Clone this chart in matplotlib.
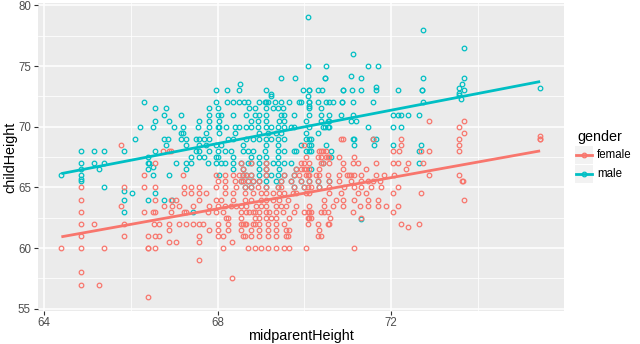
import numpy as np
import matplotlib
matplotlib.use('Agg')
import matplotlib.pyplot as plt
from matplotlib.patches import Rectangle
from matplotlib.lines import Line2D
from matplotlib.ticker import MultipleLocator

plt.rcParams['font.family'] = ['Liberation Sans', 'DejaVu Sans']

# colours used by ggplot's default hue scale
FEMALE = '#F8766D'
MALE = '#00BFC4'

# (childHeight, [midparentHeight, ...]), one row per child height
female_rows = [
    (70.5, [72.88, 73.68]),
    (70.0, [73.57]),
    (69.5, [73.68]),
    (69.2, [75.43]),
    (69.0, [70.84, 70.88, 71.57, 72.23, 73.57, 75.43, 75.43]),
    (68.5, [65.77, 70.0, 72.23, 73.57]),
    (68.0, [66.75, 66.89, 66.93, 70.34, 70.38, 70.42, 70.5, 72.03, 72.19, 72.69, 72.88, 73.57]),
    (67.5, [70.04, 70.31, 70.38, 70.5, 70.54, 70.57, 70.8, 71.15]),
    (67.0, [66.56, 68.54, 68.77, 69.11, 69.92, 70.0, 70.11, 70.38, 70.42, 70.57, 70.88, 71.11,
            71.23, 71.65, 72.03, 72.15, 72.38, 72.72]),
    (66.5, [68.58, 69.11, 69.81, 69.92, 70.0, 70.04, 70.11, 70.34, 70.88, 71.42, 72.34]),
    (66.0, [66.31, 67.2, 67.96, 68.16, 68.35, 68.5, 68.58, 68.65, 68.77, 69.11, 69.54, 69.77,
            69.88, 70.04, 70.08, 70.11, 70.27, 70.34, 70.54, 70.8, 70.99, 71.03, 71.07, 71.15,
            71.3, 71.65, 71.84, 72.07, 72.88, 73.57]),
    (65.5, [68.0, 68.16, 68.39, 68.54, 68.58, 68.69, 68.81, 68.96, 69.46, 69.69, 69.92, 70.11,
            70.31, 70.57, 70.8, 71.07, 71.3, 71.46, 71.57, 71.73, 73.66, 73.62]),
    (65.0, [64.85, 65.85, 66.31, 66.56, 67.23, 67.39, 67.58, 67.96, 68.16, 68.42, 68.62, 68.77,
            68.92, 69.11, 69.38, 69.46, 69.77, 70.0, 70.08, 70.15, 70.34, 70.57, 70.92, 71.15,
            71.3, 71.53, 71.76, 72.15]),
    (64.5, [67.23, 67.39, 67.58, 67.73, 68.16, 68.35, 68.62, 68.81, 69.0, 69.11, 69.27, 69.42,
            69.54, 69.73, 69.81, 70.04, 70.11, 70.57, 70.84, 71.23, 71.42, 72.03, 72.69]),
    (64.0, [64.85, 66.56, 66.93, 67.04, 67.58, 67.96, 68.08, 68.35, 68.62, 68.77, 69.0, 69.11,
            69.27, 69.42, 69.61, 70.46, 70.73, 70.88, 71.15, 71.46, 71.69, 73.68]),
    (63.5, [65.77, 66.77, 66.96, 67.12, 67.43, 67.81, 68.0, 68.16, 68.31, 68.42, 68.54, 68.65,
            68.88, 69.0, 69.11, 69.35, 69.46, 69.58, 69.81, 70.11, 70.46, 70.65, 70.88, 71.27,
            71.46, 71.69, 71.88, 72.15]),
    (63.0, [64.85, 66.31, 66.5, 66.56, 66.93, 67.23, 67.27, 67.77, 67.96, 68.12, 68.54, 68.65,
            68.73, 68.81, 68.85, 68.96, 69.11, 69.19, 69.35, 69.5, 69.77, 70.0, 70.08, 70.11,
            70.15, 70.38, 70.46, 70.54, 71.11, 72.03]),
    (62.5, [68.19, 68.23, 68.54, 68.85, 68.96, 69.11, 69.23, 69.35, 69.65, 70.08, 70.11, 70.15,
            70.6, 71.3]),
    (62.0, [64.85, 65.15, 65.85, 66.54, 66.65, 66.89, 67.12, 67.27, 67.43, 67.58, 67.67, 68.0,
            68.23, 68.54, 68.58, 68.62, 68.65, 68.81, 68.85, 68.96, 69.15, 69.35, 69.54, 70.08,
            70.31, 70.54, 70.57, 72.23, 72.65]),
    (61.7, [72.38]),
    (61.5, [66.89, 67.81, 68.0, 68.23, 68.54, 68.77, 68.96, 69.15, 69.35, 69.58, 69.65, 70.33]),
    (61.0, [64.85, 65.85, 66.39, 66.56, 66.65, 67.58, 68.0, 68.12, 68.58, 68.62, 68.77, 68.96,
            69.15, 69.35, 69.58, 69.61, 70.31, 70.38]),
    (60.5, [66.87, 67.04, 67.58, 68.33]),
    (60.0, [64.4, 64.85, 65.39, 66.39, 66.39, 66.56, 68.12, 68.69, 68.85, 69.0, 69.15, 69.35,
            69.54, 69.65, 70.04, 71.15]),
    (59.0, [67.58]),
    (58.0, [64.85]),
    (57.5, [68.33]),
    (57.0, [64.85, 65.26]),
    (56.0, [66.39]),
]

male_rows = [
    (79.0, [70.08]),
    (78.0, [72.72]),
    (76.5, [73.68]),
    (76.0, [71.11]),
    (75.0, [70.08, 70.5, 71.46, 71.69]),
    (74.2, [71.07]),
    (74.0, [69.46, 69.78, 70.48, 70.48, 71.3, 72.72, 73.68]),
    (73.5, [68.52, 73.62]),
    (73.3, [71.65]),
    (73.2, [73.57, 75.43]),
    (73.0, [67.96, 68.22, 68.5, 69.12, 69.97, 70.1, 70.1, 70.31, 70.4, 70.88, 70.88, 71.1,
            71.3, 71.65, 72.15, 72.7, 72.7, 73.68]),
    (72.8, [73.57]),
    (72.7, [69.23]),
    (72.6, [73.57]),
    (72.5, [69.23, 70.08]),
    (72.3, [73.6]),
    (72.0, [66.3, 67.96, 68.22, 68.36, 68.5, 68.61, 68.71, 68.96, 69.08, 69.12, 69.15, 69.33,
            69.46, 69.65, 69.88, 69.91, 70.1, 70.1, 70.32, 70.5, 70.56, 70.65, 70.87, 70.87,
            71.11, 71.57, 72.72]),
    (71.7, [70.1]),
    (71.5, [66.56, 66.81, 67.81, 68.0, 68.73, 68.85, 69.11, 69.27, 69.38, 69.5, 70.11, 70.38]),
    (71.0, [66.77, 67.16, 67.81, 68.0, 68.08, 68.35, 68.65, 68.85, 68.96, 69.11, 69.46, 69.54,
            69.77, 70.11, 70.38, 70.57, 70.84, 71.11, 72.03, 72.15, 72.23, 72.38, 72.65]),
    (70.5, [66.56, 66.89, 67.58, 67.81, 68.04, 68.77, 68.92, 69.11, 69.42, 69.54, 70.04, 70.38,
            70.54, 70.57, 71.07, 71.19]),
    (70.0, [66.2, 66.5, 67.0, 67.2, 67.54, 67.81, 68.0, 68.04, 68.19, 68.39, 68.5, 68.65,
            68.77, 68.92, 69.11, 69.23, 69.38, 69.54, 69.69, 69.77, 70.11, 70.42, 70.48, 70.54,
            70.57, 71.46, 72.03, 72.23]),
    (69.5, [67.16, 67.2, 67.73, 68.04, 68.39, 68.96, 69.15, 69.35, 69.46, 70.04, 70.31]),
    (69.0, [66.1, 66.77, 66.85, 67.16, 67.27, 67.5, 67.58, 67.69, 67.81, 68.23, 68.35, 68.65,
            68.81, 68.96, 69.11, 69.23, 69.38, 69.54, 70.04, 70.1, 70.15, 71.11, 71.15, 71.57,
            71.65]),
    (68.5, [66.81, 67.27, 67.58, 67.73, 67.96, 68.08, 68.58, 69.11, 69.38, 69.92, 70.11, 70.15,
            70.5, 71.15, 71.61, 72.03, 72.69]),
    (68.0, [64.85, 65.15, 65.39, 65.85, 66.56, 67.5, 67.58, 67.81, 68.0, 68.16, 68.31, 68.58,
            68.69, 68.81, 69.08, 69.38, 69.54, 69.77, 69.81, 70.04, 70.11, 70.15, 70.61, 72.65]),
    (67.5, [66.39, 67.39, 67.58, 67.69, 67.96, 68.0, 68.35, 68.77, 68.96, 69.11, 69.38, 70.61]),
    # sons in the dense middle band sit under the daughters' circles
    (67.0, [64.85, 65.15, 65.39, 66.39, 66.42, 67.04, 67.27, 67.39, 67.77, 67.96, 68.08, 68.16,
            68.35, 68.69, 68.96, 69.27, 69.38, 69.54, 69.69, 70.42, 72.65,
            68.54, 68.77, 69.11]),
    (66.7, [66.5]),
    (66.5, [64.85, 65.27, 66.39, 67.27, 68.35, 68.96, 69.42, 70.15,
            68.58, 69.11, 69.81]),
    (66.0, [64.4, 64.85, 66.5, 66.87, 68.04, 68.96, 69.23, 69.38,
            68.58, 68.65, 68.77, 69.11, 69.54, 69.77]),
    (65.7, [64.85]),
    (65.5, [64.85, 69.11, 69.35,
            68.54, 68.69, 68.81, 68.96, 69.46, 69.69, 69.92, 70.11, 70.31, 70.57]),
    (65.0, [65.39, 68.62, 68.77, 69.11, 69.38, 69.77, 70.0, 70.34]),
    (64.7, [65.85]),
    (64.5, [66.02, 66.56]),
    (64.0, [65.85, 66.39, 66.77, 66.94]),
    (63.0, [65.85, 67.43]),
    (62.4, [71.3]),
]

gender_labels = ['female', 'male']
x_ticks = [64, 68, 72]
y_ticks = [55, 60, 65, 70, 75, 80]


def unpack(rows):
    xs = [x for y, row in rows for x in row]
    ys = [y for y, row in rows for x in row]
    return np.array(xs), np.array(ys)


W, H = 640, 344
fig = plt.figure(figsize=(W / 100, H / 100), dpi=100)
# panel box in pixels: left, top, right, bottom
pl, pt, pr, pb = 37.5, 3.5, 564, 310.6
ax = fig.add_axes([pl / W, 1 - pb / H, (pr - pl) / W, (pb - pt) / H])
ax.set_facecolor('#EBEBEB')
for s in ax.spines.values():
    s.set_visible(False)

# males first so that females sit on top where they overlap
for rows, col in [(male_rows, MALE), (female_rows, FEMALE)]:
    x, y = unpack(rows)
    ax.plot(x, y, 'o', mfc='none', mec=col, ms=3.3, mew=0.9, zorder=3)
    # straight-line least-squares fit, like geom_smooth(method = "lm")
    b, a = np.polyfit(x, y, 1)
    xx = np.array([x.min(), x.max()])
    ax.plot(xx, a + b * xx, color=col, lw=2.0, zorder=4, solid_capstyle='butt')

ax.set_xlim(63.85, 75.98)
ax.set_ylim(54.85, 80.15)
ax.set_xticks(x_ticks)
ax.set_yticks(y_ticks)
ax.xaxis.set_minor_locator(MultipleLocator(2))
ax.yaxis.set_minor_locator(MultipleLocator(2.5))
ax.grid(which='major', color='white', lw=1.1, zorder=0)
ax.grid(which='minor', color='white', lw=0.55, zorder=0)
ax.set_axisbelow(True)
ax.tick_params(which='major', length=2.7, width=0.8, color='#333333',
               labelsize=8.3, labelcolor='#4D4D4D', pad=2)
ax.tick_params(which='minor', length=0)

fig.text((pl + pr) / 2 / W, 1 - 336 / H, 'midparentHeight', fontsize=10.4,
         ha='center', va='center')
fig.text(10 / W, 1 - (pt + pb) / 2 / H, 'childHeight', fontsize=10.4,
         ha='center', va='center', rotation=90)

# legend drawn in its own pixel-space axes
lax = fig.add_axes([0, 0, 1, 1])
lax.set_xlim(0, W)
lax.set_ylim(H, 0)
lax.axis('off')
lax.text(577, 137, 'gender', fontsize=10.4, va='center', ha='left')
for i, (lab, col) in enumerate(zip(gender_labels, [FEMALE, MALE])):
    yc = 155 + i * 19
    lax.add_patch(Rectangle((575, yc - 9), 18, 18, facecolor='#F2F2F2', edgecolor='none'))
    lax.add_line(Line2D([576, 592], [yc, yc], color=col, lw=2.0))
    lax.plot([584], [yc], 'o', mfc='none', mec=col, ms=3.3, mew=0.9)
    lax.text(597, yc, lab, fontsize=8.3, va='center', ha='left')

fig.savefig('out.png', dpi=100)
